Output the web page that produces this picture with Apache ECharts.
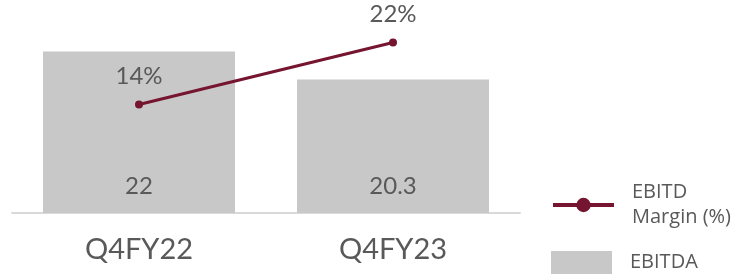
<!DOCTYPE html>
<html lang="en">
<head>
	<meta charset="UTF-8">
	<title>EBITDA</title>
	<style>
		html, body { margin: 0; padding: 0; background: #fff; }
		#main { width: 733px; height: 277px; }
	</style>
</head>
<body>
	<div id="main"></div>
	<script src="https://cdn.jsdelivr.net/npm/echarts@6/dist/echarts.min.js"></script>
	<script>
		// data
		var quarters = ['Q4FY22', 'Q4FY23'];
		var ebitda = [22, 20.3];
		var margin = [14, 22];

		var textColor = '#595959';
		var lineColor = '#76152f';
		var barColor = '#c8c8c8';
		var font = 'Lato';
		var legendFont = 'Open Sans';

		var chart = echarts.init(document.getElementById('main'));
		var option = {
			animation: false,
			grid: { left: 12, right: 213, top: 5, bottom: 64 },
			legend: [
				{
					data: ['EBITD Margin (%)'],
					left: 551, top: 180, padding: 0,
					itemWidth: 61, itemHeight: 18,
					lineStyle: { width: 4 },
					formatter: function (n) { return n.replace('EBITD ', 'EBITD\n'); },
					textStyle: { color: textColor, fontSize: 20, fontFamily: legendFont, lineHeight: 25, padding: [0, 0, 0, 13] }
				},
				{
					data: [{ name: 'EBITDA', icon: 'rect' }],
					left: 551, top: 251, padding: 0,
					itemWidth: 61, itemHeight: 23,
					textStyle: { color: textColor, fontSize: 20, fontFamily: legendFont, padding: [0, 0, 0, 13] }
				}
			],
			xAxis: {
				type: 'category',
				data: quarters,
				axisLine: { lineStyle: { color: '#d9d9d9', width: 2 } },
				axisTick: { show: false },
				axisLabel: { color: textColor, fontSize: 29, fontFamily: font, margin: 22 }
			},
			yAxis: [
				{ type: 'value', min: 12.2, max: 24.83, show: false },
				{ type: 'value', min: 0, max: 26.84, show: false }
			],
			series: [
				{
					name: 'EBITDA',
					type: 'bar',
					data: ebitda,
					barWidth: 192,
					itemStyle: { color: barColor },
					label: {
						show: true,
						position: 'insideBottom',
						distance: 15,
						color: textColor, fontSize: 24, fontFamily: font
					}
				},
				{
					name: 'EBITD Margin (%)',
					type: 'line',
					yAxisIndex: 1,
					data: margin,
					symbol: 'circle',
					symbolSize: 8,
					itemStyle: { color: lineColor },
					lineStyle: { color: lineColor, width: 3 },
					label: {
						show: true,
						position: 'top',
						distance: 12,
						formatter: '{c}%',
						color: textColor, fontSize: 24, fontFamily: font
					}
				}
			]
		};
		chart.setOption(option);
	</script>
</body>
</html>
